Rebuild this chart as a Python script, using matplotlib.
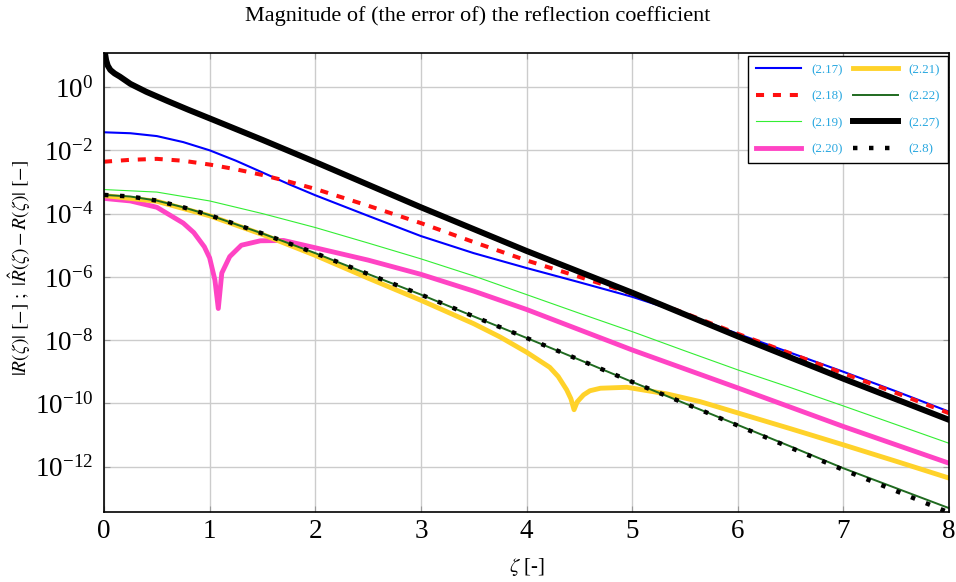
import numpy as np
import matplotlib
matplotlib.use('Agg')
import matplotlib.pyplot as plt
from matplotlib.ticker import FixedLocator, NullLocator, LogFormatterSciNotation

plt.rcParams['font.family'] = 'serif'
plt.rcParams['font.serif'] = ['Liberation Serif', 'DejaVu Serif']
plt.rcParams['mathtext.fontset'] = 'stix'

# valores, en log10
z_217 = [0, 0.25, 0.5, 0.75, 1.0, 1.25, 1.5, 1.75, 2.0, 2.5, 3, 3.5, 4, 4.5, 5, 5.5, 6, 6.5, 7, 7.5, 8]
l_217 = [-1.43, -1.46, -1.55, -1.74, -2.0, -2.33, -2.7, -3.07, -3.42, -4.07, -4.71, -5.25, -5.72, -6.17, -6.63,
         -7.17, -7.8, -8.4, -9.0, -9.62, -10.26]

z_218 = [0, 0.25, 0.5, 0.75, 1.0, 1.25, 1.5, 1.75, 2.0, 2.5, 3, 3.5, 4, 4.5, 5, 5.5, 6, 6.5, 7, 7.5, 8]
l_218 = [-2.36, -2.3, -2.27, -2.33, -2.45, -2.6, -2.78, -2.99, -3.22, -3.75, -4.3, -4.9, -5.48, -6.0, -6.53,
         -7.15, -7.8, -8.42, -9.05, -9.67, -10.31]

z_219 = [0, 0.5, 1.0, 1.5, 2.0, 2.5, 3, 3.5, 4, 4.5, 5, 5.5, 6, 6.5, 7, 7.5, 8]
l_219 = [-3.24, -3.32, -3.6, -4.0, -4.44, -4.93, -5.43, -5.97, -6.56, -7.15, -7.73, -8.34, -8.94, -9.5,
         -10.08, -10.67, -11.26]

z_220 = [0, 0.25, 0.5, 0.75, 0.85, 0.95, 1.0, 1.05, 1.082, 1.115, 1.19, 1.3, 1.48, 1.7, 2.0, 2.5, 3, 3.5,
         4, 4.5, 5, 5.5, 6, 6.5, 7, 7.5, 8]
l_220 = [-3.52, -3.6, -3.8, -4.3, -4.6, -5.05, -5.4, -6.1, -7.0, -5.88, -5.36, -5.0, -4.86, -4.85, -5.08,
         -5.47, -5.92, -6.45, -7.03, -7.67, -8.31, -8.91, -9.51, -10.12, -10.73, -11.31, -11.89]

z_221 = [0, 0.5, 1.0, 1.5, 2.0, 2.5, 3.0, 3.5, 3.75, 4.0, 4.22, 4.3, 4.38, 4.42, 4.45, 4.48, 4.54, 4.6, 4.7,
         4.95, 5.33, 5.64, 6, 6.5, 7, 7.5, 8]
l_221 = [-3.43, -3.61, -4.07, -4.66, -5.32, -6.04, -6.74, -7.48, -7.9, -8.38, -8.86, -9.15, -9.57, -9.85,
         -10.2, -9.95, -9.73, -9.6, -9.52, -9.49, -9.7, -9.94, -10.3, -10.8, -11.31, -11.83, -12.36]

z_222 = [0, 0.25, 0.5, 0.75, 1.0, 1.25, 1.5, 1.75, 2.0, 2.5, 3, 3.5, 4, 4.5, 5, 5.5, 6, 6.5, 7, 7.5, 8]
l_222 = [-3.41, -3.46, -3.59, -3.8, -4.05, -4.34, -4.63, -4.94, -5.25, -5.91, -6.56, -7.25, -7.93, -8.62,
         -9.32, -10.0, -10.68, -11.36, -12.05, -12.68, -13.31]

z_227 = [0.004, 0.01, 0.02, 0.035, 0.06, 0.1, 0.15, 0.25, 0.4, 0.6, 0.8, 1.0, 1.5, 2, 3, 4, 5, 6, 7, 8]
l_227 = [1.4, 1.05, 0.85, 0.68, 0.54, 0.43, 0.33, 0.1, -0.15, -0.44, -0.72, -0.99, -1.67, -2.37, -3.8,
         -5.18, -6.5, -7.88, -9.22, -10.52]

z_28 = [0, 0.25, 0.5, 0.75, 1.0, 1.25, 1.5, 1.75, 2.0, 2.5, 3, 3.5, 4, 4.5, 5, 5.5, 6, 6.5, 7, 7.5, 8]
l_28 = [-3.41, -3.46, -3.59, -3.8, -4.05, -4.34, -4.63, -4.94, -5.25, -5.91, -6.56, -7.25, -7.93, -8.62,
        -9.32, -10.0, -10.7, -11.4, -12.1, -12.77, -13.45]

etiquetas = ['(2.17)', '(2.18)', '(2.19)', '(2.20)', '(2.21)', '(2.22)', '(2.27)', '(2.8)']
yticks = [1e-12, 1e-10, 1e-8, 1e-6, 1e-4, 1e-2, 1e0]
xticks = [0, 1, 2, 3, 4, 5, 6, 7, 8]

series = [
    (z_217, l_217, dict(color='#0000ff', lw=1.5)),
    (z_218, l_218, dict(color='#ff1010', lw=2.9, ls=(0, (2, 2.2)))),
    (z_219, l_219, dict(color='#33ee33', lw=0.8)),
    (z_220, l_220, dict(color='#ff44c4', lw=3.5)),
    (z_221, l_221, dict(color='#ffd22a', lw=3.5)),
    (z_222, l_222, dict(color='#1f6a1f', lw=1.4)),
    (z_227, l_227, dict(color='black', lw=4.3)),
    (z_28, l_28, dict(color='black', lw=3.2, ls=(0, (1, 2.6)))),
]

fig = plt.figure(figsize=(9.56, 5.82), dpi=100)
ax = fig.add_axes([0.1088, 0.1203, 0.9927 - 0.1088, 0.9089 - 0.1203])

for (z, l, estilo), et in zip(series, etiquetas):
    ax.plot(z, 10 ** np.array(l), label=et, **estilo)

ax.set_yscale('log')
ax.set_xlim(0, 8)
ax.set_ylim(3.7e-14, 11.9)
ax.yaxis.set_major_locator(FixedLocator(yticks))
ax.yaxis.set_major_formatter(LogFormatterSciNotation(base=10))
ax.yaxis.set_minor_locator(NullLocator())
ax.set_xticks(xticks)
ax.grid(True, color='#cccccc', lw=1)
ax.set_axisbelow(True)
ax.tick_params(direction='in', length=4, color='#999999', labelsize=19.5, top=True, right=True)
ax.tick_params(axis='y', pad=8)
ax.tick_params(axis='x', pad=5)
for s in ax.spines.values():
    s.set_linewidth(1.2)

fig.text(0.5, 0.972, 'Magnitude of (the error of) the reflection coefficient', ha='center', va='center',
         fontsize=16)
ax.set_xlabel(r'$\zeta$ [-]', fontsize=15, va='center')
ax.xaxis.set_label_coords(0.5, -0.12)
ax.set_ylabel(r'$|R(\zeta)|\ [-]\ ;\ |\hat{R}(\zeta) - R(\zeta)|\ [-]$', fontsize=14, va='center')
ax.yaxis.set_label_coords(-0.1, 0.532)

leg = ax.legend(ncol=2, loc='upper right', bbox_to_anchor=(0.9988, 0.9935), fontsize=9.4,
                handlelength=3.45, handletextpad=0.8, columnspacing=0.8, labelspacing=1.1,
                fancybox=False, framealpha=1, edgecolor='black', borderpad=0.6, borderaxespad=0)
leg.get_frame().set_linewidth(1.0)
for t in leg.get_texts():
    t.set_color('#2aa8e0')

fig.savefig('out.png', dpi=100)
